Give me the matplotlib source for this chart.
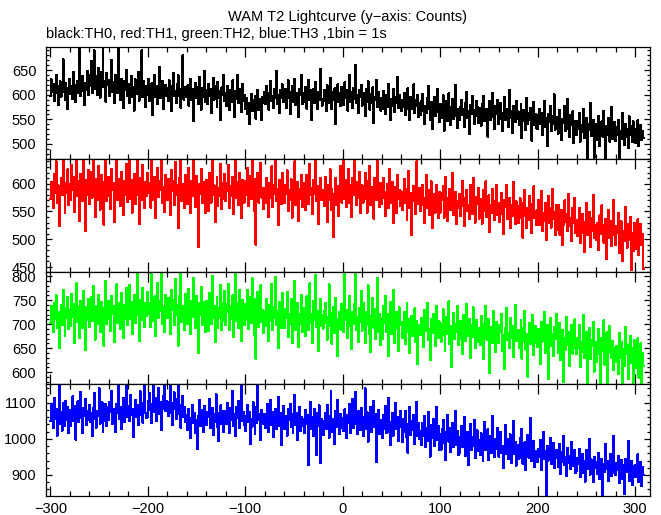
import numpy as np
import matplotlib
matplotlib.use('Agg')
import matplotlib.pyplot as plt
from matplotlib.ticker import MultipleLocator

plt.rcParams['font.family'] = ['Liberation Sans', 'DejaVu Sans']

# 1 bin = 1 s, first bin at t = -300 s
t_start = -300

# TH0 (black)
th0 = [
    598, 631, 605, 622, 587, 615, 640, 603, 579, 618, 627, 596, 611, 672, 606, 589, 624, 613, 571, 609,
    633, 601, 618, 592, 646, 620, 585, 611, 628, 604, 698, 597, 615, 639, 608, 580, 623, 610, 648, 599,
    641, 617, 668, 603, 629, 690, 612, 638, 600, 655, 624, 594, 647, 633, 702, 615, 628, 586, 644, 619,
    630, 598, 611, 671, 605, 626, 583, 640, 617, 603, 695, 612, 589, 633, 620, 574, 628, 609, 651, 597,
    622, 584, 607, 639, 596, 615, 568, 631, 610, 601, 646, 588, 619, 604, 690, 595, 627, 613, 575, 618,
    600, 632, 587, 611, 623, 559, 604, 641, 596, 618, 582, 609, 656, 593, 614, 627, 571, 605, 620, 598,
    614, 588, 629, 603, 566, 617, 645, 598, 608, 583, 621, 640, 597, 612, 574, 603, 680, 590, 616, 601,
    595, 619, 578, 606, 633, 589, 611, 547, 602, 624, 593, 615, 582, 637, 600, 570, 613, 596, 648, 585,
    609, 581, 622, 597, 612, 563, 604, 634, 590, 617, 601, 575, 626, 593, 608, 548, 615, 599, 640, 587,
    603, 577, 618, 594, 569, 610, 586, 629, 598, 555, 607, 591, 640, 583, 612, 596, 565, 621, 588, 600,
    572, 594, 560, 583, 541, 578, 602, 566, 589, 574, 598, 551, 581, 610, 569, 592, 577, 548, 596, 583,
    606, 582, 617, 591, 570, 603, 628, 587, 598, 574, 612, 593, 649, 581, 600, 563, 609, 594, 621, 585,
    588, 611, 573, 602, 629, 594, 560, 605, 617, 586, 598, 633, 579, 603, 591, 554, 612, 599, 640, 582,
    603, 585, 616, 572, 598, 630, 590, 609, 548, 594, 612, 583, 625, 597, 571, 606, 589, 652, 592, 578,
    587, 610, 596, 566, 619, 601, 583, 634, 592, 571, 606, 589, 613, 540, 598, 621, 585, 603, 577, 616,
    601, 579, 625, 593, 610, 568, 597, 640, 586, 605, 574, 614, 592, 660, 583, 600, 563, 609, 595, 620,
    578, 603, 590, 556, 612, 585, 627, 594, 570, 601, 583, 615, 542, 596, 589, 630, 575, 605, 592, 568,
    594, 571, 608, 583, 560, 599, 576, 622, 587, 549, 591, 578, 611, 565, 596, 584, 637, 573, 600, 580,
    566, 590, 575, 604, 558, 583, 571, 613, 580, 548, 595, 572, 586, 621, 563, 590, 577, 599, 555, 584,
    559, 588, 601, 566, 540, 577, 562, 593, 618, 571, 548, 585, 530, 569, 596, 557, 580, 611, 564, 545,
    581, 553, 569, 599, 527, 562, 587, 574, 546, 603, 560, 538, 576, 592, 551, 568, 620, 557, 533, 571,
    548, 576, 590, 559, 572, 534, 584, 606, 553, 566, 521, 579, 561, 597, 570, 540, 556, 588, 575, 543,
    574, 552, 537, 581, 565, 598, 546, 559, 572, 515, 563, 587, 549, 570, 604, 555, 531, 577, 561, 590,
    541, 569, 583, 550, 527, 562, 596, 548, 571, 557, 534, 609, 553, 566, 522, 578, 560, 545, 587, 551,
    566, 538, 559, 581, 512, 547, 570, 555, 528, 593, 541, 562, 549, 574, 507, 553, 586, 539, 560, 532,
    531, 558, 572, 540, 563, 519, 549, 587, 535, 552, 496, 561, 544, 578, 527, 556, 540, 601, 529, 548,
    555, 521, 546, 569, 533, 508, 551, 542, 577, 526, 545, 592, 530, 514, 559, 538, 566, 502, 547, 536,
    518, 547, 531, 562, 505, 539, 524, 571, 512, 535, 553, 468, 541, 528, 583, 516, 537, 549, 472, 530,
    540, 509, 531, 557, 496, 523, 546, 515, 568, 528, 466, 537, 519, 552, 505, 533, 575, 511, 526, 544,
    506, 534, 518, 549, 463, 527, 511, 563, 523, 498, 541, 515, 530, 492, 556, 519, 537, 504, 546, 525,
    531, 502, 524, 548, 495, 517, 539, 508, 527, 513,
]

# TH1 (red)
th1 = [
    572, 603, 591, 556, 618, 584, 640, 566, 597, 523, 588, 611, 579, 650, 594, 547, 602, 583, 626, 561,
    599, 571, 634, 588, 612, 549, 593, 656, 577, 605, 532, 618, 586, 569, 641, 592, 515, 607, 580, 624,
    563, 598, 621, 575, 645, 587, 540, 609, 571, 632, 594, 553, 616, 581, 603, 526, 590, 649, 569, 601,
    612, 578, 554, 627, 589, 602, 531, 596, 648, 570, 608, 585, 559, 621, 591, 544, 605, 580, 636, 567,
    595, 641, 572, 606, 548, 589, 617, 563, 598, 653, 580, 527, 610, 592, 571, 634, 586, 556, 603, 578,
    620, 583, 601, 557, 646, 591, 570, 612, 538, 597, 629, 576, 604, 588, 661, 565, 594, 549, 615, 582,
    571, 608, 592, 543, 625, 586, 604, 562, 639, 579, 597, 520, 611, 583, 650, 568, 599, 587, 556, 616,
    596, 563, 628, 584, 547, 605, 577, 642, 590, 558, 614, 573, 486, 599, 581, 626, 565, 603, 589, 548,
    607, 575, 551, 620, 588, 566, 644, 579, 597, 531, 583, 612, 560, 593, 578, 636, 554, 601, 572, 617,
    569, 601, 587, 634, 556, 596, 578, 612, 545, 590, 655, 574, 603, 561, 620, 583, 539, 607, 592, 566,
    604, 579, 628, 560, 595, 613, 572, 643, 587, 551, 608, 490, 583, 620, 566, 598, 637, 575, 592, 555,
    593, 566, 611, 584, 540, 602, 575, 631, 558, 597, 581, 648, 569, 590, 526, 606, 583, 564, 619, 577,
    565, 597, 582, 624, 551, 589, 570, 608, 539, 594, 576, 640, 561, 585, 603, 533, 591, 572, 616, 558,
    601, 574, 552, 615, 586, 563, 635, 579, 592, 545, 607, 581, 658, 568, 596, 527, 584, 610, 571, 589,
    588, 559, 612, 575, 531, 598, 570, 626, 553, 590, 567, 504, 582, 611, 562, 595, 542, 578, 632, 566,
    594, 642, 573, 606, 558, 589, 627, 565, 598, 540, 611, 579, 650, 586, 562, 603, 575, 621, 547, 592,
    597, 566, 584, 620, 573, 548, 605, 589, 632, 561, 579, 594, 537, 610, 585, 571, 655, 590, 558, 602,
    563, 590, 611, 574, 541, 585, 599, 557, 626, 580, 566, 603, 529, 578, 594, 547, 615, 572, 588, 560,
    586, 552, 577, 609, 565, 590, 534, 571, 623, 556, 583, 507, 568, 596, 579, 545, 640, 563, 575, 592,
    551, 579, 598, 562, 530, 574, 615, 557, 588, 543, 569, 604, 521, 566, 582, 548, 597, 573, 538, 585,
    548, 583, 571, 596, 539, 560, 612, 575, 533, 567, 590, 552, 578, 620, 544, 563, 585, 527, 569, 556,
    581, 542, 566, 605, 559, 523, 574, 588, 551, 562, 536, 597, 570, 545, 611, 558, 530, 576, 563, 592,
    537, 573, 560, 528, 589, 551, 566, 604, 540, 557, 579, 513, 562, 548, 591, 569, 534, 555, 598, 544,
    566, 531, 552, 584, 545, 509, 571, 558, 597, 536, 549, 575, 520, 562, 541, 603, 553, 527, 568, 546,
    529, 560, 574, 538, 551, 503, 566, 589, 542, 520, 557, 534, 578, 546, 512, 563, 595, 539, 550, 525,
    552, 571, 526, 541, 587, 515, 548, 533, 565, 499, 544, 578, 530, 556, 521, 590, 537, 549, 508, 562,
    517, 541, 562, 508, 535, 553, 489, 526, 570, 531, 546, 515, 582, 524, 538, 497, 556, 529, 574, 511,
    534, 505, 527, 556, 493, 520, 545, 512, 477, 531, 566, 508, 523, 549, 486, 538, 514, 580, 502, 526,
    498, 530, 517, 480, 543, 509, 561, 526, 494, 515, 537, 465, 521, 552, 503, 532, 488, 519, 570, 507,
    489, 524, 511, 548, 476, 503, 532, 460, 515, 496, 558, 508, 485, 527, 499, 540, 445, 512, 478, 530,
    517, 483, 505, 536, 471, 499, 527, 490, 510, 447,
]

# TH2 (green)
th2 = [
    702, 738, 721, 684, 745, 711, 760, 693, 726, 650, 717, 741, 698, 772, 709, 675, 733, 714, 757, 690,
    729, 697, 764, 716, 742, 660, 723, 785, 705, 736, 672, 748, 712, 693, 770, 721, 646, 737, 708, 753,
    694, 731, 756, 707, 779, 718, 668, 739, 701, 762, 725, 683, 747, 711, 734, 655, 722, 790, 700, 741,
    748, 710, 686, 759, 721, 738, 662, 729, 783, 703, 744, 717, 690, 766, 726, 671, 740, 712, 775, 699,
    735, 781, 711, 747, 680, 728, 762, 703, 739, 812, 720, 665, 751, 733, 708, 776, 724, 694, 744, 717,
    768, 722, 745, 694, 815, 731, 707, 758, 676, 740, 787, 714, 749, 728, 820, 701, 736, 683, 762, 725,
    713, 754, 736, 679, 771, 729, 750, 698, 795, 720, 741, 655, 758, 726, 808, 705, 739, 731, 688, 764,
    739, 701, 773, 724, 680, 749, 715, 796, 730, 692, 758, 711, 640, 744, 719, 778, 698, 747, 726, 684,
    749, 711, 686, 765, 726, 700, 801, 714, 738, 663, 722, 757, 693, 734, 715, 782, 688, 744, 706, 769,
    699, 742, 725, 784, 688, 736, 711, 760, 674, 729, 806, 707, 745, 693, 771, 718, 665, 750, 731, 698,
    743, 708, 771, 690, 733, 757, 702, 796, 721, 677, 752, 628, 716, 768, 694, 738, 781, 705, 729, 681,
    728, 697, 752, 718, 665, 741, 707, 783, 689, 735, 714, 799, 698, 727, 651, 746, 719, 692, 765, 710,
    692, 731, 713, 768, 674, 721, 701, 753, 660, 726, 707, 790, 688, 716, 745, 652, 722, 700, 761, 684,
    733, 702, 675, 758, 714, 688, 785, 703, 722, 661, 748, 709, 803, 694, 727, 644, 711, 752, 697, 719,
    691, 728, 744, 702, 668, 715, 783, 697, 724, 659, 708, 736, 681, 755, 712, 634, 700, 726, 689, 742,
    718, 683, 806, 709, 730, 671, 696, 759, 714, 648, 725, 700, 742, 815, 688, 716, 663, 733, 705, 770,
    687, 744, 712, 661, 725, 699, 781, 680, 718, 642, 706, 755, 693, 731, 670, 708, 796, 684, 722, 657,
    713, 670, 739, 702, 758, 684, 721, 633, 696, 747, 679, 710, 772, 661, 703, 726, 690, 644, 735, 699,
    705, 671, 688, 726, 659, 700, 745, 683, 712, 640, 695, 718, 676, 690, 733, 662, 707, 617, 698, 684,
    678, 713, 697, 652, 729, 685, 703, 744, 668, 691, 626, 710, 682, 721, 699, 655, 738, 688, 672, 706,
    702, 664, 690, 731, 677, 645, 715, 693, 680, 748, 659, 697, 611, 688, 724, 670, 701, 683, 739, 657,
    669, 707, 681, 638, 720, 694, 665, 742, 687, 676, 712, 630, 698, 673, 735, 683, 651, 709, 690, 662,
    693, 656, 718, 679, 701, 627, 686, 738, 668, 690, 712, 599, 677, 695, 660, 728, 682, 643, 704, 671,
    660, 699, 683, 721, 645, 677, 607, 692, 734, 668, 681, 650, 714, 672, 696, 632, 688, 741, 665, 679,
    688, 651, 674, 709, 628, 693, 666, 728, 647, 680, 591, 670, 703, 659, 684, 720, 636, 675, 697, 661,
    652, 690, 671, 617, 705, 664, 682, 726, 640, 675, 698, 586, 667, 713, 654, 679, 633, 694, 669, 722,
    679, 641, 668, 703, 625, 660, 689, 580, 671, 647, 715, 656, 684, 612, 663, 698, 639, 675, 710, 650,
    638, 672, 651, 698, 610, 662, 643, 719, 630, 657, 684, 575, 649, 693, 627, 668, 655, 705, 601, 661,
    663, 622, 654, 690, 637, 578, 671, 645, 708, 616, 652, 683, 572, 640, 697, 658, 629, 666, 604, 650,
    621, 655, 640, 596, 682, 630, 664, 570, 648, 612, 695, 637, 658, 585, 643, 676, 620, 651, 578, 667,
    645, 608, 636, 671, 589, 628, 660, 576, 641, 614,
]

# TH3 (blue)
th3 = [
    1048, 1095, 1071, 1030, 1112, 1056, 1083, 1009, 1067, 1158, 1041, 1075, 1022, 1098, 1060, 1036, 1105, 1052, 1088, 1015,
    1079, 1034, 1061, 1117, 1050, 1090, 998, 1068, 1103, 1045, 1072, 1129, 1057, 1016, 1084, 1063, 1111, 1039, 1076, 1052,
    1093, 1047, 1070, 1008, 1085, 1126, 1055, 1031, 1078, 1064, 1139, 1042, 1066, 1101, 1019, 1073, 1050, 1096, 1035, 1087,
    1052, 1101, 1074, 1133, 1040, 1081, 1062, 1019, 1096, 1070, 1145, 1055, 1088, 1027, 1077, 1114, 1046, 1068, 1155, 1060,
    1090, 1048, 1122, 1067, 1083, 1005, 1076, 1108, 1059, 1094, 1037, 1079, 1131, 1066, 1100, 1044, 1085, 1150, 1071, 1057,
    1061, 1105, 1127, 1079, 1043, 1096, 1160, 1074, 1112, 1050, 1088, 1139, 1068, 1101, 1025, 1083, 1118, 1157, 1076, 1092,
    1103, 1064, 1090, 1145, 1072, 1037, 1098, 1128, 1081, 1055, 1109, 1153, 1069, 1094, 1031, 1080, 1119, 1060, 1088, 1047,
    1066, 1025, 1083, 1039, 1002, 1057, 1094, 1044, 1071, 1015, 1052, 973, 1062, 1107, 1036, 1079, 1048, 1019, 1090, 1058,
    1037, 1075, 1061, 1111, 1029, 1054, 1086, 1010, 1068, 1045, 1123, 1033, 1070, 994, 1057, 1092, 1041, 1077, 1018, 1063,
    1078, 1041, 1099, 1060, 1016, 1084, 1052, 1131, 1035, 1069, 1007, 1088, 1057, 1104, 1029, 1066, 1147, 1048, 1073, 1039,
    1021, 1064, 1093, 1047, 1075, 985, 1056, 1033, 1101, 1062, 1012, 1087, 1044, 1158, 1051, 1068, 996, 1079, 1040, 1058,
    1069, 1030, 1052, 1096, 1018, 1061, 1107, 1039, 1074, 1004, 1048, 1083, 1026, 1059, 1115, 1036, 1071, 982, 1054, 1090,
    1026, 1062, 1044, 1009, 1083, 1051, 1097, 1032, 1068, 1015, 1055, 1121, 1037, 1072, 996, 1046, 1088, 1021, 1059, 1034,
    1054, 1017, 1079, 1040, 1066, 928, 1047, 1101, 1028, 1061, 1008, 1083, 1043, 954, 1070, 1035, 1092, 932, 1056, 1030,
    1011, 1049, 1072, 1026, 1094, 1039, 1003, 1063, 1131, 1020, 1056, 1041, 985, 1077, 1033, 1108, 1045, 1014, 1068, 1029,
    1058, 1022, 1081, 1037, 1003, 1066, 1044, 1095, 1015, 1052, 1109, 1031, 1070, 1130, 1040, 1013, 1077, 1049, 1024, 1086,
    1045, 1008, 1061, 1139, 1027, 1073, 992, 1050, 1036, 1088, 1019, 1057, 1104, 1032, 1068, 935, 1041, 1079, 1012, 1053,
    1039, 1001, 1066, 1028, 1090, 1015, 1052, 1114, 1020, 983, 1047, 1071, 1009, 1036, 1098, 1026, 1061, 994, 1043, 1078,
    1032, 991, 1055, 1018, 1077, 1004, 1040, 962, 1026, 1089, 1011, 1049, 1023, 1066, 985, 1035, 1101, 1007, 1044, 999,
    1021, 983, 1043, 1008, 1062, 976, 1030, 995, 1075, 1014, 951, 1037, 1002, 1056, 979, 1025, 1088, 997, 1035, 968,
    1013, 970, 1028, 1052, 987, 1006, 941, 1019, 1067, 992, 1031, 964, 1001, 1044, 976, 1010, 1078, 983, 1022, 955,
    961, 1004, 1035, 978, 997, 1060, 953, 989, 1018, 927, 992, 1041, 970, 1006, 981, 1051, 946, 994, 1023, 967,
    996, 955, 1015, 981, 938, 1003, 1047, 968, 990, 1026, 942, 975, 1009, 961, 1062, 984, 950, 1000, 973, 1031,
    951, 993, 1020, 962, 981, 918, 975, 1038, 957, 999, 943, 986, 1012, 934, 968, 1049, 958, 991, 926, 979,
    983, 945, 1002, 958, 1027, 931, 966, 990, 914, 972, 1011, 948, 963, 1058, 939, 976, 995, 922, 967, 952,
    937, 972, 951, 998, 913, 956, 1019, 944, 965, 845, 981, 940, 960, 1003, 929, 953, 988, 918, 947, 970,
    958, 921, 945, 986, 902, 937, 963, 1007, 928, 949, 897, 975, 933, 952, 916, 990, 941, 925, 968, 906,
    912, 947, 930, 973, 894, 922, 958, 905, 939, 882, 968, 917, 935, 999, 901, 943, 926, 880, 951, 920,
    936, 902, 925, 961, 889, 918, 944, 845, 930, 909, 985, 916, 940, 884, 927, 958, 897, 921, 1009, 906,
    899, 934, 913, 952, 878, 920, 941, 890, 927, 848, 945, 909, 931, 995, 884, 918, 940, 871, 925, 903,
    928, 894, 916, 957, 880, 911, 935, 869, 922, 900,
]

series = [th0, th1, th2, th3]
colors = ['black', '#ff0000', '#00ff00', '#0000ff']
y_ranges = [(469, 697), (442, 644), (576, 810), (842, 1152)]
y_major = [50, 50, 50, 100]
y_minor = [10, 10, 10, 20]

title = 'WAM T2 Lightcurve (y\u2212axis: Counts)'
subtitle = 'black:TH0, red:TH1, green:TH2, blue:TH3 ,1bin = 1s'

W, H = 661, 515
fig, axes = plt.subplots(4, 1, sharex=True, figsize=(W / 100, H / 100), dpi=100)
fig.subplots_adjust(left=46 / W, right=650 / W, top=1 - 47 / H, bottom=1 - 496 / H, hspace=0)

for ax, y, c, yr, ymaj, ymin in zip(axes, series, colors, y_ranges, y_major, y_minor):
    y = np.asarray(y)
    t = t_start + np.arange(len(y))
    # histogram-style trace, 1 px and pixel sharp like the IDL output
    ax.plot(t, y, color=c, lw=0.72, drawstyle='steps-mid', antialiased=False)
    ax.set_xlim(-304.5, 315.4)
    ax.set_ylim(*yr)
    ax.xaxis.set_major_locator(MultipleLocator(100))
    ax.xaxis.set_minor_locator(MultipleLocator(20))
    ax.yaxis.set_major_locator(MultipleLocator(ymaj))
    ax.yaxis.set_minor_locator(MultipleLocator(ymin))
    ax.tick_params(which='both', direction='in', top=True, right=True, width=0.9, labelsize=10.5)
    ax.tick_params(axis='x', which='major', length=7, pad=4)
    ax.tick_params(axis='x', which='minor', length=3.5)
    ax.tick_params(axis='y', which='major', length=4.5, pad=7)
    ax.tick_params(axis='y', which='minor', length=2.5)
    for sp in ax.spines.values():
        sp.set_linewidth(0.9)

# the IDL-style headers sit above the top panel
fig.text(348 / W, 1 - 21 / H, title, ha='center', va='baseline', fontsize=10.5)
fig.text(46 / W, 1 - 38 / H, subtitle, ha='left', va='baseline', fontsize=10.5)

fig.savefig('out.png', dpi=100)
